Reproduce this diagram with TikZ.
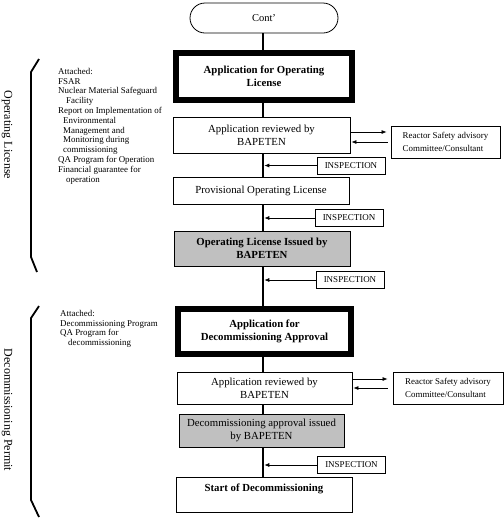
\documentclass[tikz,border=0pt]{standalone}
\usepackage{fontspec}
\setmainfont{Liberation Serif}
\usetikzlibrary{arrows.meta}
\definecolor{boxgray}{RGB}{192,192,192}
\begin{document}
\begin{tikzpicture}[x=1pt,y=-1pt,
  box/.style={draw, line width=0.8pt, inner sep=1pt, align=center, font=\fontsize{10.8}{13}\selectfont},
  thickbox/.style={box, line width=6pt, font=\fontsize{10.8}{13}\selectfont\bfseries},
  graybox/.style={box, fill=boxgray},
  insp/.style={draw, line width=0.8pt, inner sep=0pt, minimum width=68pt, minimum height=17pt, font=\fontsize{9}{10}\selectfont},
  rsc/.style={draw, line width=0.8pt, inner sep=0pt, align=left, font=\fontsize{8.9}{13}\selectfont},
  spine/.style={line width=2.5pt},
  arr/.style={line width=0.7pt, -{Latex[length=5pt,width=4pt]}},
  brace/.style={line width=1.8pt},
  note/.style={anchor=north west, inner sep=0pt, align=left, font=\fontsize{8.9}{9.8}\selectfont},
  side/.style={rotate=-90, font=\fontsize{12}{14}\selectfont, inner sep=0pt}
]
\useasboundingbox (0,0) rectangle (504,523);
\coordinate (sp) at (263,0);

% main column
\node[draw, line width=0.8pt, rounded corners=15pt, minimum width=148pt, minimum height=30pt, font=\fontsize{10.5}{12}\selectfont] (cont) at (264,18) {Cont’};
\node[thickbox, minimum width=176pt, minimum height=47pt] (app1) at (264,76.5) {Application for Operating\\License};
\node[box, minimum width=177pt, minimum height=36pt] (rev1) at (261.5,135) {Application reviewed by\\BAPETEN};
\node[box, minimum width=176pt, minimum height=27pt] (prov) at (261,190.5) {Provisional Operating License};
\node[graybox, minimum width=176pt, minimum height=35pt, font=\fontsize{10.8}{13}\selectfont\bfseries] (olic) at (262,248.5) {Operating License Issued by\\BAPETEN};
\node[thickbox, minimum width=173pt, minimum height=45pt] (app2) at (264.5,331.5) {Application for\\Decommissioning Approval};
\node[box, minimum width=175pt, minimum height=32pt] (rev2) at (264.5,388) {Application reviewed by\\BAPETEN};
\node[graybox, minimum width=165pt, minimum height=33pt] (dapp) at (261.5,430.5) {Decommissioning approval issued\\by BAPETEN};
\node[box, minimum width=176pt, minimum height=35pt, font=\fontsize{10.8}{13}\selectfont\bfseries] (start) at (264,494.5) {Start of Decommissioning\\\mbox{}};

% side boxes
\node[rsc, minimum width=109pt, minimum height=32pt] (rsc1) at (445.5,142) {Reactor Safety advisory\\Committee/Consultant};
\node[rsc, minimum width=110pt, minimum height=32pt] (rsc2) at (448,388) {Reactor Safety advisory\\Committee/Consultant};
\node[insp] (insp1) at (351,165.5) {INSPECTION};
\node[insp] (insp2) at (349,218) {INSPECTION};
\node[insp] (insp3) at (350,280) {INSPECTION};
\node[insp] (insp4) at (351.5,465) {INSPECTION};

% spine connectors
\draw[spine] (cont.south -| sp) -- (app1.north -| sp);
\draw[spine] (app1.south -| sp) -- (rev1.north -| sp);
\draw[spine] (rev1.south -| sp) -- (prov.north -| sp);
\draw[spine] (prov.south -| sp) -- (olic.north -| sp);
\draw[spine] (olic.south -| sp) -- (app2.north -| sp);
\draw[spine] (app2.south -| sp) -- (rev2.north -| sp);
\draw[spine] (rev2.south -| sp) -- (dapp.north -| sp);
\draw[spine] (dapp.south -| sp) -- (start.north -| sp);

% inspection arrows
\draw[arr, shorten >=1.3pt] (insp1.west) -- (insp1.west -| sp);
\draw[arr, shorten >=1.3pt] (insp2.west) -- (insp2.west -| sp);
\draw[arr, shorten >=1.3pt] (insp3.west) -- (insp3.west -| sp);
\draw[arr, shorten >=1.3pt] (insp4.west) -- (insp4.west -| sp);

% reactor safety arrows
\draw[arr, shorten >=4pt] ([yshift=3pt]rev1.east) -- ([yshift=3pt]rev1.east -| rsc1.west);
\draw[arr, shorten <=3pt, shorten >=1pt] ([yshift=-7pt]rev1.east -| rsc1.west) -- ([yshift=-7pt]rev1.east);
\draw[arr, shorten >=5pt] ([yshift=9pt]rev2.east) -- ([yshift=9pt]rev2.east -| rsc2.west);
\draw[arr, shorten <=5pt, shorten >=1pt] (rev2.east -| rsc2.west) -- (rev2.east);

% attachments
\node[note] (att1) at (58,68) {Attached:\\
FSAR\\
Nuclear Material Safeguard\\
\hspace*{8pt}Facility\\
Report on Implementation of\\
\hspace*{5pt}Environmental\\
\hspace*{5pt}Management and\\
\hspace*{5pt}Monitoring during\\
\hspace*{5pt}commissioning\\
QA Program for Operation\\
Financial guarantee for\\
\hspace*{8pt}operation};
\node[note] (att2) at (60,310) {Attached:\\
Decommissioning Program\\
QA Program for\\
\hspace*{8pt}decommissioning};

% brackets and side labels
\draw[brace] (39,59) -- (31,72) -- (31,257) -- (37,272);
\draw[brace] (39,306) -- (31,318) -- (31,500) -- (39,517);
\node[side] (lab1) at (7,135) {Operating License};
\node[side] (lab2) at (7,410) {Decommissioning Permit};
\end{tikzpicture}
\end{document}
